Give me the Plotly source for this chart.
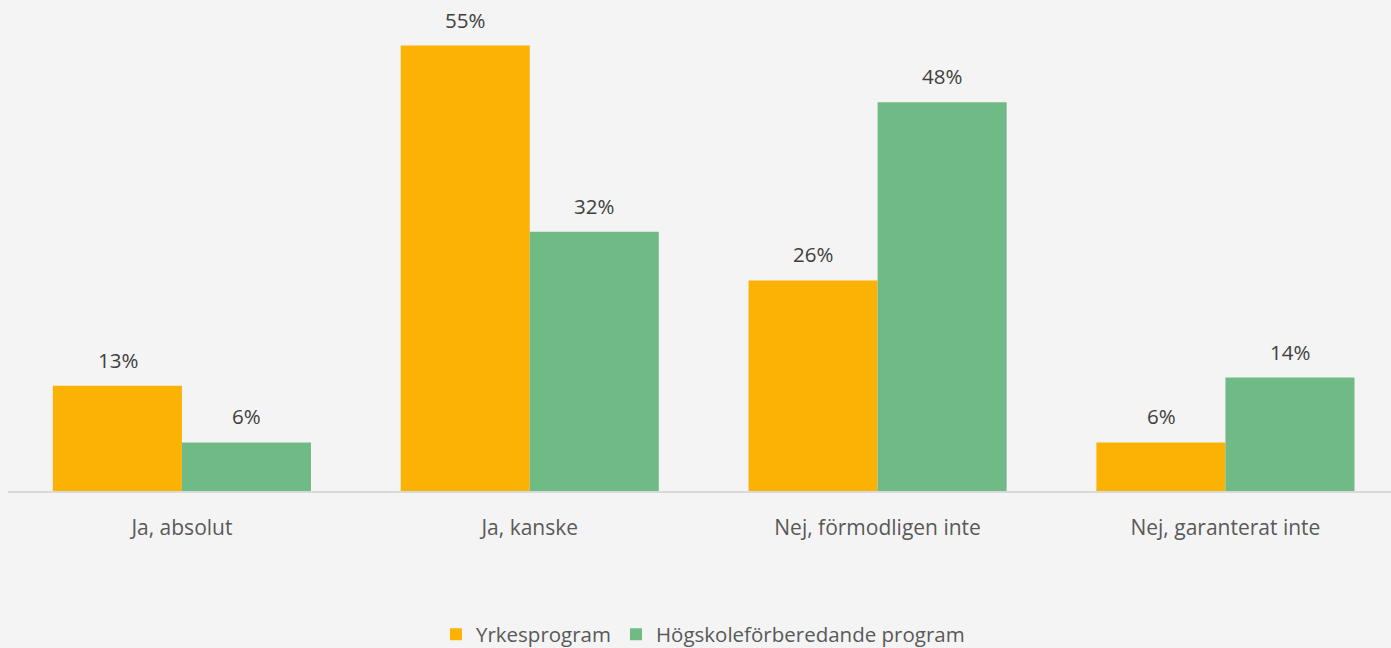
import plotly.graph_objects as go

categories = ["Ja, absolut", "Ja, kanske", "Nej, förmodligen inte", "Nej, garanterat inte"]
yrkes = [13, 55, 26, 6]
hogskole = [6, 32, 48, 14]
series_names = ["Yrkesprogram", "Högskoleförberedande program"]
colors = ["#FCB205", "#70BB85"]

fig = go.Figure()
for name, vals, col in zip(series_names, [yrkes, hogskole], colors):
    fig.add_trace(go.Bar(x=categories, y=vals, name=name, marker=dict(color=col, line=dict(width=0)),
                         offsetgroup=name))

annos = []
for vals, xs in zip([yrkes, hogskole], [-0.185, 0.185]):
    for j, v in enumerate(vals):
        annos.append(dict(x=j + xs, y=v, xref="x", yref="y", text=f"{v}%", showarrow=False,
                          yanchor="middle", yshift=26,
                          font=dict(size=20.5, color="#404040", family="Open Sans")))

fig.update_layout(
    width=1391, height=648,
    paper_bgcolor="#F4F4F4", plot_bgcolor="#F4F4F4",
    margin=dict(l=8, r=0, t=5, b=157, autoexpand=False),
    barmode="group", bargap=0.258, bargroupgap=0,
    font=dict(family="Open Sans", size=20, color="#595959"),
    annotations=annos,
    legend=dict(orientation="h", x=0.5025, xanchor="center", y=-0.295, yanchor="middle",
                font=dict(size=20.5, color="#595959"), itemsizing="constant", traceorder="normal"),
    xaxis=dict(range=[-0.5, 3.476], showline=True, linecolor="#D9D9D9", linewidth=1.5,
               ticks="", ticklabelstandoff=17, showgrid=False, tickfont=dict(size=21, color="#595959")),
    yaxis=dict(range=[0, 60], visible=False, showgrid=False, zeroline=False),
)

fig.write_html("out.html", config={"displayModeBar": False},
               post_script="document.body.style.margin='0';document.body.style.background='#F4F4F4';")
